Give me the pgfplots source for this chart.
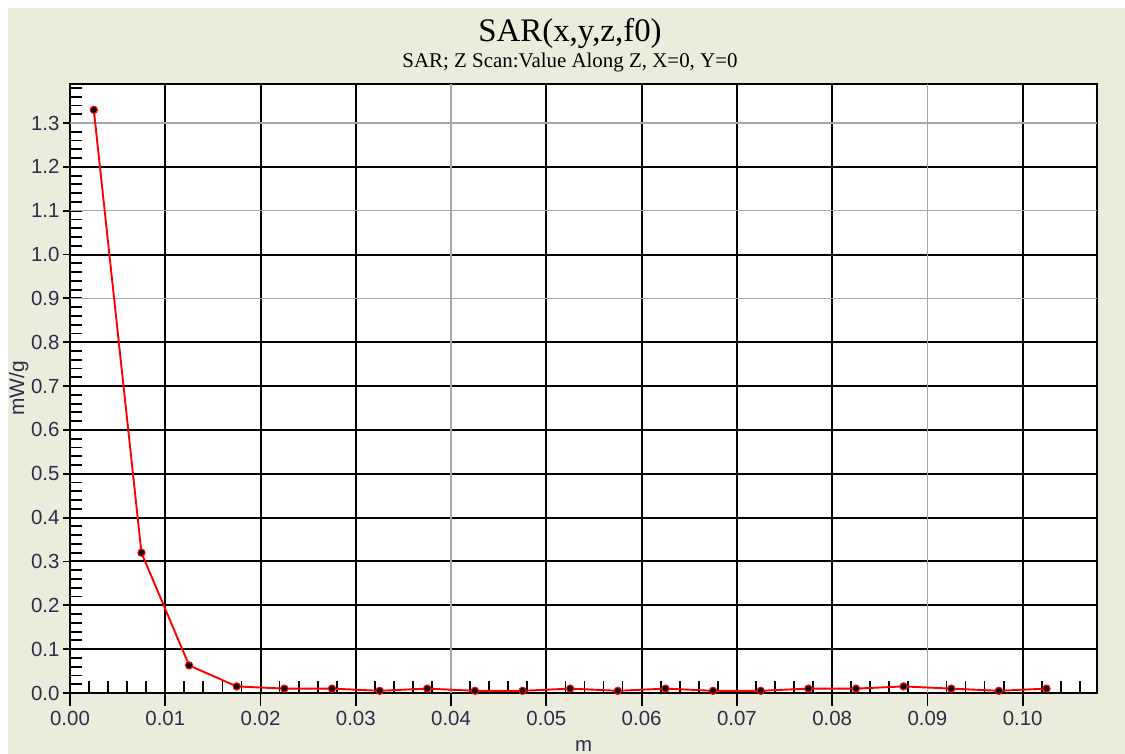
\documentclass[border=0pt]{standalone}
\usepackage{fontspec}
\setmainfont{Liberation Serif}
\newfontfamily\arial{Liberation Sans}
\usepackage{pgfplots}
\pgfplotsset{compat=1.18}
\definecolor{bgbeige}{RGB}{236,236,221}
\definecolor{ticklab}{RGB}{45,45,75}
\definecolor{sarred}{RGB}{255,0,0}
\pgfplotsset{common/.style={scale only axis, width=1027bp, height=609bp,
  at={(70bp,61bp)}, anchor=south west,
  xmin=0, xmax=0.1078, ymin=0, ymax=1.389}}
\begin{document}
\begin{tikzpicture}[x=1bp,y=1bp]
\path[use as bounding box] (0,0) rectangle (1125,754);
\fill[white] (0,0) rectangle (1125,754);
\fill[bgbeige] (8,0) rectangle (1125,746);
% background + minor ticks
\begin{axis}[common,
  axis background/.style={fill=white},
  axis line style={draw=none},
  tick pos=left, tick align=inside, major tick length=12bp,
  tick style={black, line width=1.8bp},
  xtick={0,0.002,...,0.1065}, ytick={0,0.02,...,1.385},
  xticklabels={}, yticklabels={}]
\end{axis}
% main axis
\begin{axis}[common,
  axis line style={black, line width=2bp},
  tick pos=left, tick align=outside, major tick length=7bp,
  tick style={black, line width=1.8bp},
  xtick={0,0.01,0.02,0.03,0.05,0.06,0.07,0.08,0.10},
  xticklabels={0.00,0.01,0.02,0.03,0.05,0.06,0.07,0.08,0.10},
  extra x ticks={0.04,0.09},
  extra x tick labels={0.04,0.09},
  extra x tick style={grid=major, major grid style={draw=gray!70, line width=1.5bp}},
  ytick={0,0.1,0.2,0.3,0.4,0.5,0.6,0.7,0.8,1.0,1.2},
  yticklabels={0.0,0.1,0.2,0.3,0.4,0.5,0.6,0.7,0.8,1.0,1.2},
  extra y ticks={0.9,1.1,1.3},
  extra y tick labels={0.9,1.1,1.3},
  extra y tick style={grid=major, major grid style={draw=gray!70, line width=1.5bp}},
  grid=major, major grid style={black, line width=2bp},
  ticklabel style={font=\arial\fontsize{20.5}{23}\selectfont, text=ticklab},
  x tick label style={yshift=-8bp},
  xlabel={m}, ylabel={mW/g},
  xlabel style={at={(axis description cs:0.5,-0.087)}, anchor=center, font=\arial\fontsize{20.5}{23}\selectfont, text=ticklab},
  ylabel style={at={(axis description cs:-0.05,0.5)}, anchor=center, font=\arial\fontsize{21}{23}\selectfont, text=ticklab},
  clip=false]
\addplot[sarred, line width=1.9bp, mark=*, mark size=3.6bp,
  mark options={fill=black, draw=sarred, line width=1.1bp}] coordinates {
  (0.0025,1.33) (0.0075,0.32) (0.0125,0.063) (0.0175,0.015)
  (0.0225,0.010) (0.0275,0.010) (0.0325,0.005) (0.0375,0.010)
  (0.0425,0.005) (0.0475,0.005) (0.0525,0.010) (0.0575,0.005)
  (0.0625,0.010) (0.0675,0.005) (0.0725,0.005) (0.0775,0.010)
  (0.0825,0.010) (0.0875,0.015) (0.0925,0.010) (0.0975,0.005)
  (0.1025,0.010)};
\end{axis}
% long outside x major ticks
\begin{axis}[common,
  axis line style={draw=none},
  tick pos=left, tick align=outside, major tick length=13bp,
  tick style={black, line width=1.8bp},
  xtick={0,0.01,0.02,0.03,0.04,0.05,0.06,0.07,0.08,0.09,0.10},
  ytick=\empty, xticklabels={}]
\end{axis}
\node[anchor=base, font=\fontsize{33}{36}\selectfont] at (570,712) {SAR(x,y,z,f0)};
\node[anchor=base, font=\fontsize{21}{23}\selectfont] at (570,686) {SAR; Z Scan:Value Along Z, X=0, Y=0};
\end{tikzpicture}
\end{document}
